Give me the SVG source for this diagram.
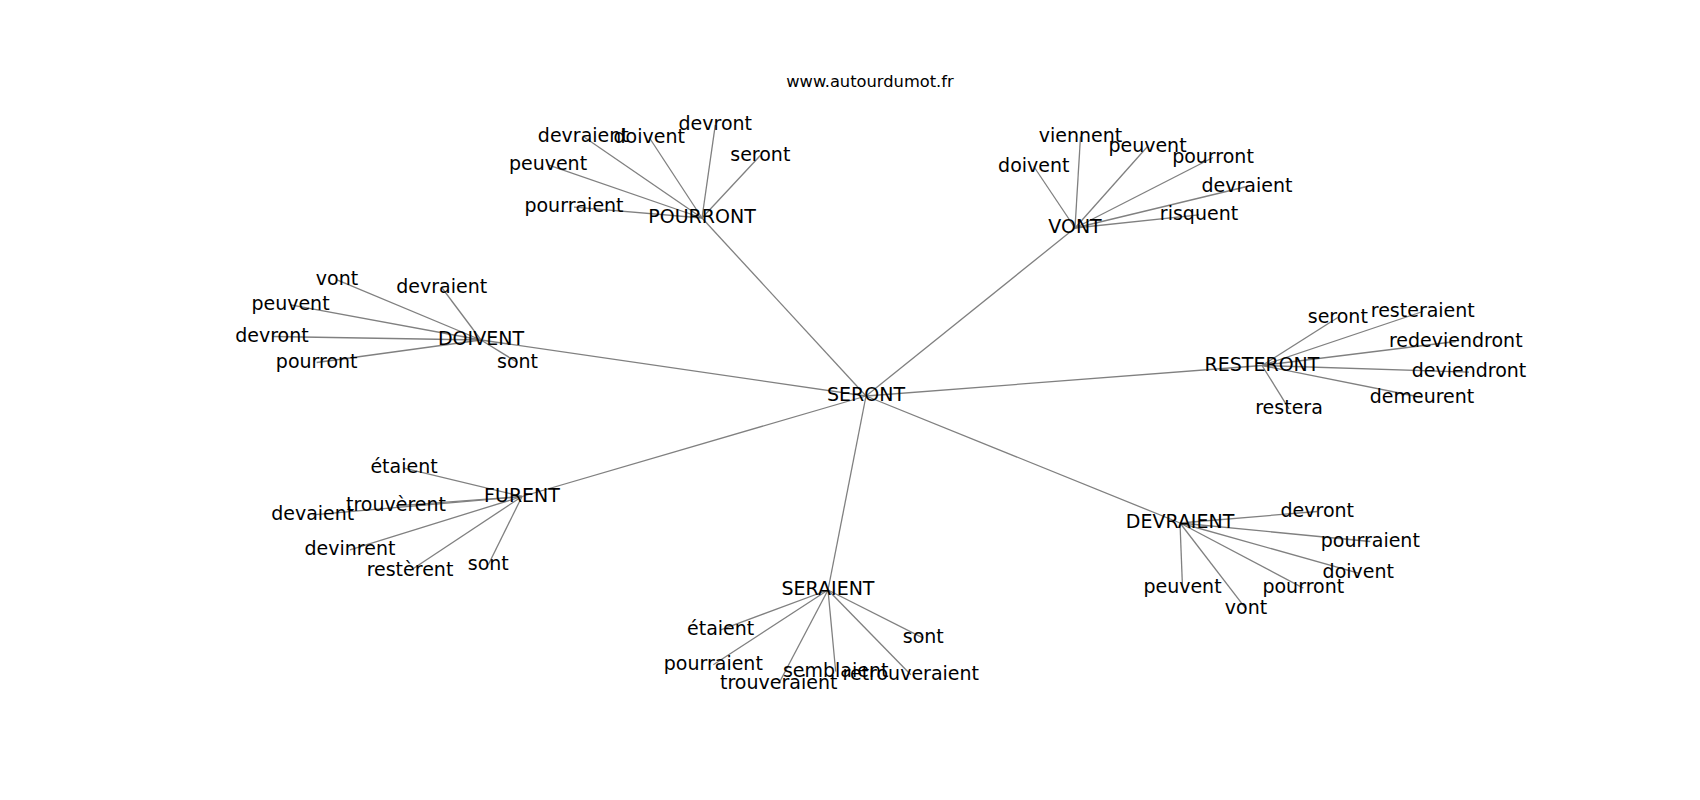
<svg xmlns="http://www.w3.org/2000/svg" width="1700" height="800" viewBox="0 0 1700 800">
<style>
text{font-family:"DejaVu Sans","Liberation Sans",sans-serif;font-size:19px;fill:#000;text-anchor:middle}
.title{font-size:16.3px}
#edges line{stroke:#808080;stroke-width:1.3}
</style>
<rect width="1700" height="800" fill="#fff"/>
<text class="title" x="870" y="87.3">www.autourdumot.fr</text>
<g id="edges">
<line x1="866" y1="396" x2="702" y2="218"/>
<line x1="866" y1="396" x2="1075" y2="228"/>
<line x1="866" y1="396" x2="481" y2="340"/>
<line x1="866" y1="396" x2="1262" y2="365.5"/>
<line x1="866" y1="396" x2="522" y2="496.5"/>
<line x1="866" y1="396" x2="828" y2="590"/>
<line x1="866" y1="396" x2="1180" y2="523"/>
<line x1="702" y1="218" x2="583.3" y2="136.5"/>
<line x1="702" y1="218" x2="649.2" y2="137.5"/>
<line x1="702" y1="218" x2="715.3" y2="124.8"/>
<line x1="702" y1="218" x2="760.3" y2="155.5"/>
<line x1="702" y1="218" x2="548" y2="164.8"/>
<line x1="702" y1="218" x2="574" y2="207.1"/>
<line x1="1075" y1="228" x2="1080.5" y2="136.5"/>
<line x1="1075" y1="228" x2="1147.5" y2="146.5"/>
<line x1="1075" y1="228" x2="1213" y2="157.5"/>
<line x1="1075" y1="228" x2="1033.8" y2="166.5"/>
<line x1="1075" y1="228" x2="1247" y2="186.5"/>
<line x1="1075" y1="228" x2="1199" y2="214.8"/>
<line x1="481" y1="340" x2="337" y2="279.8"/>
<line x1="481" y1="340" x2="441.7" y2="287.5"/>
<line x1="481" y1="340" x2="290.5" y2="304.8"/>
<line x1="481" y1="340" x2="272" y2="336.5"/>
<line x1="481" y1="340" x2="316.7" y2="362.5"/>
<line x1="481" y1="340" x2="517.5" y2="362.5"/>
<line x1="1262" y1="365.5" x2="1337.8" y2="317.5"/>
<line x1="1262" y1="365.5" x2="1422.8" y2="311.5"/>
<line x1="1262" y1="365.5" x2="1455.8" y2="341.5"/>
<line x1="1262" y1="365.5" x2="1469" y2="372.1"/>
<line x1="1262" y1="365.5" x2="1422" y2="397.5"/>
<line x1="1262" y1="365.5" x2="1289" y2="408.8"/>
<line x1="522" y1="496.5" x2="404" y2="468.1"/>
<line x1="522" y1="496.5" x2="396" y2="505.8"/>
<line x1="522" y1="496.5" x2="312.7" y2="514.8"/>
<line x1="522" y1="496.5" x2="350" y2="549.8"/>
<line x1="522" y1="496.5" x2="410" y2="570.8"/>
<line x1="522" y1="496.5" x2="488.3" y2="564.8"/>
<line x1="828" y1="590" x2="720.7" y2="629.8"/>
<line x1="828" y1="590" x2="923.3" y2="638.1"/>
<line x1="828" y1="590" x2="713.3" y2="664.8"/>
<line x1="828" y1="590" x2="835.7" y2="671.5"/>
<line x1="828" y1="590" x2="910.8" y2="674.8"/>
<line x1="828" y1="590" x2="778.7" y2="683.8"/>
<line x1="1180" y1="523" x2="1317.3" y2="511.5"/>
<line x1="1180" y1="523" x2="1370.3" y2="541.5"/>
<line x1="1180" y1="523" x2="1358.3" y2="573.1"/>
<line x1="1180" y1="523" x2="1303.3" y2="588.1"/>
<line x1="1180" y1="523" x2="1182.5" y2="587.5"/>
<line x1="1180" y1="523" x2="1246" y2="608.8"/>
</g>
<g id="n-seront"><text x="866" y="401.2">SERONT</text></g>
<g id="n-pourront"><text x="702" y="223.2">POURRONT</text></g>
<g id="n-pourront-devraient"><text x="583.3" y="141.7">devraient</text></g>
<g id="n-pourront-doivent"><text x="649.2" y="142.7">doivent</text></g>
<g id="n-pourront-devront"><text x="715.3" y="130">devront</text></g>
<g id="n-pourront-seront"><text x="760.3" y="160.7">seront</text></g>
<g id="n-pourront-peuvent"><text x="548" y="170">peuvent</text></g>
<g id="n-pourront-pourraient"><text x="574" y="212.3">pourraient</text></g>
<g id="n-vont"><text x="1075" y="233.2">VONT</text></g>
<g id="n-vont-viennent"><text x="1080.5" y="141.7">viennent</text></g>
<g id="n-vont-peuvent"><text x="1147.5" y="151.7">peuvent</text></g>
<g id="n-vont-pourront"><text x="1213" y="162.7">pourront</text></g>
<g id="n-vont-doivent"><text x="1033.8" y="171.7">doivent</text></g>
<g id="n-vont-devraient"><text x="1247" y="191.7">devraient</text></g>
<g id="n-vont-risquent"><text x="1199" y="220">risquent</text></g>
<g id="n-doivent"><text x="481" y="345.2">DOIVENT</text></g>
<g id="n-doivent-vont"><text x="337" y="285">vont</text></g>
<g id="n-doivent-devraient"><text x="441.7" y="292.7">devraient</text></g>
<g id="n-doivent-peuvent"><text x="290.5" y="310">peuvent</text></g>
<g id="n-doivent-devront"><text x="272" y="341.7">devront</text></g>
<g id="n-doivent-pourront"><text x="316.7" y="367.7">pourront</text></g>
<g id="n-doivent-sont"><text x="517.5" y="367.7">sont</text></g>
<g id="n-resteront"><text x="1262" y="370.7">RESTERONT</text></g>
<g id="n-resteront-seront"><text x="1337.8" y="322.7">seront</text></g>
<g id="n-resteront-resteraient"><text x="1422.8" y="316.7">resteraient</text></g>
<g id="n-resteront-redeviendront"><text x="1455.8" y="346.7">redeviendront</text></g>
<g id="n-resteront-deviendront"><text x="1469" y="377.3">deviendront</text></g>
<g id="n-resteront-demeurent"><text x="1422" y="402.7">demeurent</text></g>
<g id="n-resteront-restera"><text x="1289" y="414">restera</text></g>
<g id="n-furent"><text x="522" y="501.7">FURENT</text></g>
<g id="n-furent-etaient"><text x="404" y="473.3">étaient</text></g>
<g id="n-furent-trouverent"><text x="396" y="511">trouvèrent</text></g>
<g id="n-furent-devaient"><text x="312.7" y="520">devaient</text></g>
<g id="n-furent-devinrent"><text x="350" y="555">devinrent</text></g>
<g id="n-furent-resterent"><text x="410" y="576">restèrent</text></g>
<g id="n-furent-sont"><text x="488.3" y="570">sont</text></g>
<g id="n-seraient"><text x="828" y="595.2">SERAIENT</text></g>
<g id="n-seraient-etaient"><text x="720.7" y="635">étaient</text></g>
<g id="n-seraient-sont"><text x="923.3" y="643.3">sont</text></g>
<g id="n-seraient-pourraient"><text x="713.3" y="670">pourraient</text></g>
<g id="n-seraient-semblaient"><text x="835.7" y="676.7">semblaient</text></g>
<g id="n-seraient-retrouveraient"><text x="910.8" y="680">retrouveraient</text></g>
<g id="n-seraient-trouveraient"><text x="778.7" y="689">trouveraient</text></g>
<g id="n-devraient"><text x="1180" y="528.3">DEVRAIENT</text></g>
<g id="n-devraient-devront"><text x="1317.3" y="516.7">devront</text></g>
<g id="n-devraient-pourraient"><text x="1370.3" y="546.7">pourraient</text></g>
<g id="n-devraient-doivent"><text x="1358.3" y="578.3">doivent</text></g>
<g id="n-devraient-pourront"><text x="1303.3" y="593.3">pourront</text></g>
<g id="n-devraient-peuvent"><text x="1182.5" y="592.7">peuvent</text></g>
<g id="n-devraient-vont"><text x="1246" y="614">vont</text></g>
</svg>
